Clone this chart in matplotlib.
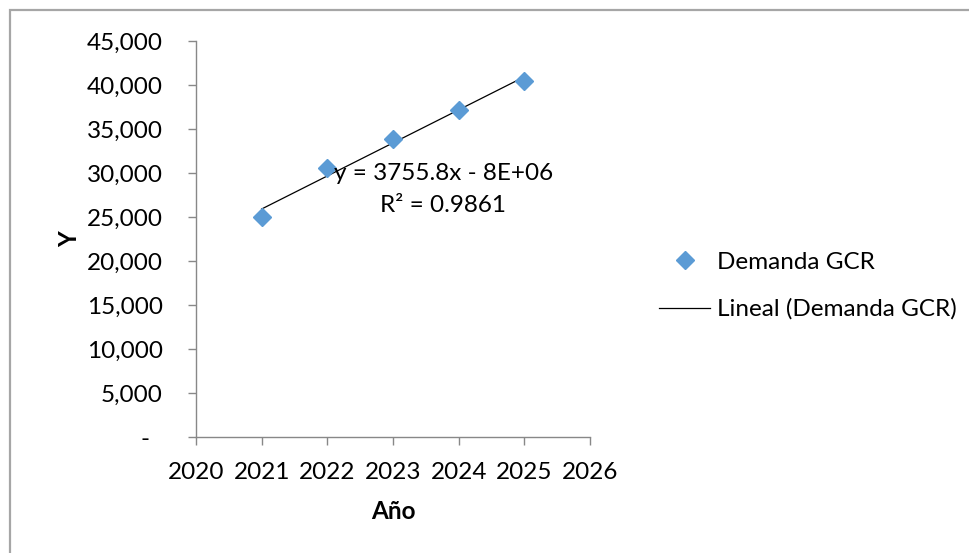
import numpy as np
import matplotlib
matplotlib.use("Agg")
import matplotlib.pyplot as plt
from matplotlib.ticker import FuncFormatter, MultipleLocator
from matplotlib.patches import Rectangle

# Demand data per year
years = [2021, 2022, 2023, 2024, 2025]
demanda = [25000, 30600, 33850, 37150, 40500]
series_name = "Demanda GCR"
trend_name = "Lineal (Demanda GCR)"
eq_text = "y = 3755.8x - 8E+06"
r2_text = "R² = 0.9861"

plt.rcParams["font.family"] = ["Lato", "DejaVu Sans"]
FS = 17.5

fig = plt.figure(figsize=(9.70, 5.53), dpi=100)
W, H = 970, 553

# chart area border (runs off the right and bottom edges)
fig.patches.append(Rectangle((10 / W, -0.1), 1.2, 1.1 - 10 / H, transform=fig.transFigure,
                             fill=False, edgecolor="#a6a6a6", linewidth=1.6, clip_on=False))

ax = fig.add_axes([196 / W, 1 - 437 / H, (590 - 196) / W, (437 - 41) / H])

# linear trend
coef = np.polyfit(years, demanda, 1)
xs = np.array([years[0], years[-1]])
ax.plot(xs, np.polyval(coef, xs), color="black", linewidth=0.9, label=trend_name, zorder=2)
ax.plot(years, demanda, linestyle="none", marker="D", markersize=9,
        color="#5b9bd5", label=series_name, zorder=3)

ax.set_xlim(2020, 2026)
ax.set_ylim(0, 45000)
ax.xaxis.set_major_locator(MultipleLocator(1))
ax.yaxis.set_major_locator(MultipleLocator(5000))
ax.yaxis.set_major_formatter(FuncFormatter(lambda v, p: "-  " if v == 0 else f"{v:,.0f}"))

for side in ("top", "right"):
    ax.spines[side].set_visible(False)
axis_col = "#888888"
ax.spines["left"].set_color(axis_col)
ax.spines["bottom"].set_color(axis_col)
ax.spines["left"].set_linewidth(1.0)
ax.spines["bottom"].set_linewidth(1.0)
ax.tick_params(axis="y", direction="out", length=6, width=1.0, color=axis_col,
               labelsize=FS, pad=18)
ax.tick_params(axis="x", direction="out", length=6, width=1.0, color=axis_col,
               labelsize=FS, pad=12)

ax.set_xlabel("Año", fontsize=FS, fontweight="bold", labelpad=12)
ax.set_ylabel("Y", fontsize=FS, fontweight="bold", labelpad=4)

# trendline equation
ax.text(0.628, 0.665, eq_text, transform=ax.transAxes, ha="center", va="center", fontsize=FS)
ax.text(0.628, 0.585, r2_text, transform=ax.transAxes, ha="center", va="center", fontsize=FS)

handles, labels = ax.get_legend_handles_labels()
leg = fig.legend(handles[::-1], labels[::-1], loc="center left",
                 bbox_to_anchor=(659 / W, 1 - 286 / H), frameon=False, fontsize=FS,
                 borderpad=0, borderaxespad=0,
                 handlelength=2.1, handletextpad=0.3, labelspacing=1.05)

fig.savefig("out.png", dpi=100, facecolor="white")
